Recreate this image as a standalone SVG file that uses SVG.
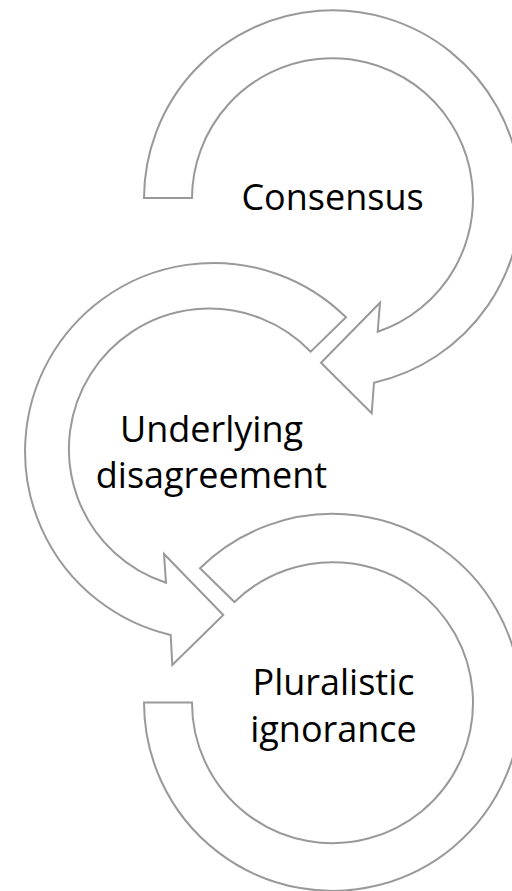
<svg xmlns="http://www.w3.org/2000/svg" width="512" height="891" viewBox="0 0 512 891">
<style>
.band{fill:#ffffff;stroke:#999999;stroke-width:2;stroke-linejoin:miter}
.lbl{font-family:"Open Sans","Noto Sans","Liberation Sans",sans-serif;font-size:36px;fill:#000000;text-anchor:middle}
</style>
<rect width="512" height="891" fill="#ffffff"/>
<g id="connectors"></g>
<g id="node-consensus">
<path class="band" d="M 144 198 A 188.5 188.5 0 1 1 374 382.7 L 371.7 413.3 L 321 362.7 L 380 302.7 L 377.7 331.7 A 140.5 140.5 0 1 0 192 198 Z"/>
<text class="lbl" x="332.5" y="210">Consensus</text>
</g>
<g id="node-underlying">
<path class="band" d="M 346 317.3 A 188.5 188.5 0 1 0 170.7 635 L 172.3 665 L 223.3 615 L 164 554 L 166 582.7 A 140.5 140.5 0 1 1 310.7 351.7 Z"/>
<text class="lbl" x="211.5" y="441.7">Underlying</text>
<text class="lbl" x="211.5" y="488.3">disagreement</text>
</g>
<g id="node-pluralistic">
<path class="band" d="M 200 568.3 A 188.5 188.5 0 1 1 144 702.5 L 192 702.5 A 140.5 140.5 0 1 0 234.5 602 Z"/>
<text class="lbl" x="333.5" y="695">Pluralistic</text>
<text class="lbl" x="333.5" y="741.7">ignorance</text>
</g>
</svg>
